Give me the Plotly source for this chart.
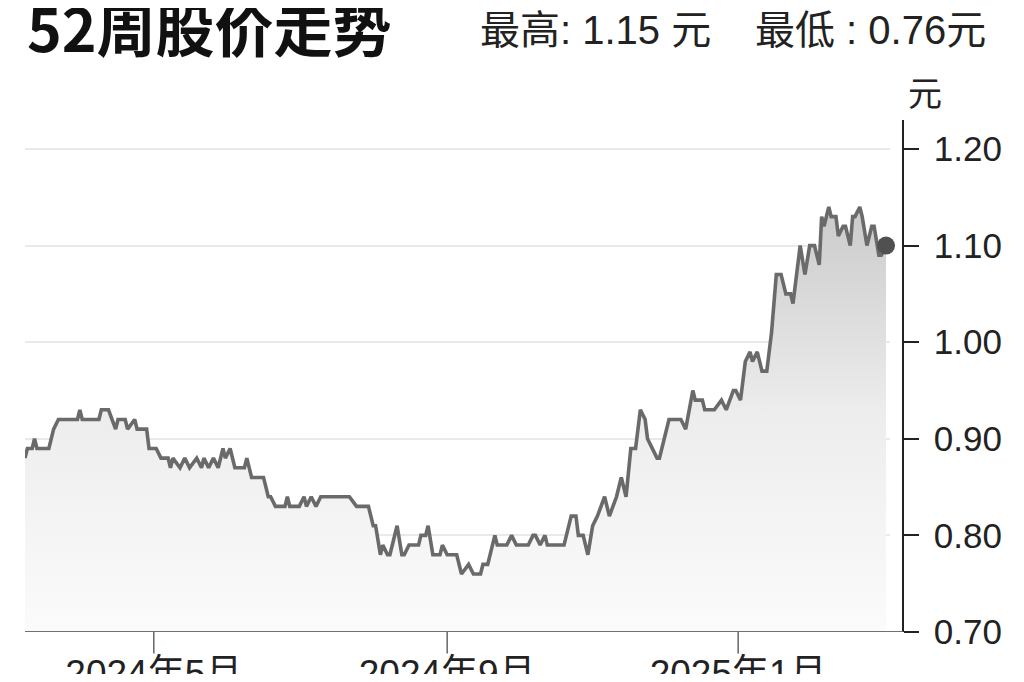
import plotly.graph_objects as go

dates = [
    "2024-03-08", "2024-03-09", "2024-03-11", "2024-03-12", "2024-03-13", "2024-03-18",
    "2024-03-20", "2024-03-22", "2024-03-30", "2024-03-31", "2024-04-01", "2024-04-08",
    "2024-04-09", "2024-04-12", "2024-04-15", "2024-04-16", "2024-04-19", "2024-04-20",
    "2024-04-23", "2024-04-24", "2024-04-28", "2024-04-29", "2024-05-02", "2024-05-04",
    "2024-05-07", "2024-05-08", "2024-05-09", "2024-05-12", "2024-05-14", "2024-05-16",
    "2024-05-19", "2024-05-21", "2024-05-22", "2024-05-24", "2024-05-26", "2024-05-28",
    "2024-05-30", "2024-05-31", "2024-06-02", "2024-06-04", "2024-06-08", "2024-06-09",
    "2024-06-11", "2024-06-16", "2024-06-18", "2024-06-19", "2024-06-21", "2024-06-25",
    "2024-06-26", "2024-06-27", "2024-07-01", "2024-07-03", "2024-07-04", "2024-07-06",
    "2024-07-08", "2024-07-10", "2024-07-22", "2024-07-25", "2024-07-30", "2024-08-01",
    "2024-08-02", "2024-08-04", "2024-08-05", "2024-08-07", "2024-08-08", "2024-08-11",
    "2024-08-13", "2024-08-14", "2024-08-16", "2024-08-20", "2024-08-21", "2024-08-23",
    "2024-08-24", "2024-08-26", "2024-08-29", "2024-08-30", "2024-09-01", "2024-09-05",
    "2024-09-07", "2024-09-10", "2024-09-12", "2024-09-15", "2024-09-16", "2024-09-18",
    "2024-09-21", "2024-09-22", "2024-09-26", "2024-09-28", "2024-09-30", "2024-10-05",
    "2024-10-07", "2024-10-08", "2024-10-10", "2024-10-12", "2024-10-13", "2024-10-20",
    "2024-10-23", "2024-10-25", "2024-10-26", "2024-10-28", "2024-10-30", "2024-11-01",
    "2024-11-03", "2024-11-06", "2024-11-08", "2024-11-11", "2024-11-13", "2024-11-15",
    "2024-11-17", "2024-11-19", "2024-11-21", "2024-11-23", "2024-11-24", "2024-11-28",
    "2024-11-29", "2024-12-03", "2024-12-08", "2024-12-10", "2024-12-13", "2024-12-14",
    "2024-12-17", "2024-12-18", "2024-12-22", "2024-12-25", "2024-12-27", "2024-12-30",
    "2024-12-31", "2025-01-02", "2025-01-04", "2025-01-06", "2025-01-07", "2025-01-09",
    "2025-01-11", "2025-01-13", "2025-01-15", "2025-01-17", "2025-01-19", "2025-01-21",
    "2025-01-23", "2025-01-24", "2025-01-27", "2025-01-29", "2025-01-31", "2025-02-02",
    "2025-02-04", "2025-02-05", "2025-02-06", "2025-02-08", "2025-02-09", "2025-02-11",
    "2025-02-12", "2025-02-14", "2025-02-15", "2025-02-17", "2025-02-18", "2025-02-19",
    "2025-02-21", "2025-02-22", "2025-02-24", "2025-02-26", "2025-02-27", "2025-03-01",
    "2025-03-02", "2025-03-04",
]

prices = [
    0.88, 0.89, 0.89, 0.90, 0.89, 0.89,
    0.91, 0.92, 0.92, 0.93, 0.92, 0.92,
    0.93, 0.93, 0.91, 0.92, 0.92, 0.91,
    0.92, 0.91, 0.91, 0.89, 0.89, 0.88,
    0.88, 0.87, 0.88, 0.87, 0.88, 0.87,
    0.88, 0.87, 0.88, 0.87, 0.88, 0.87,
    0.89, 0.88, 0.89, 0.87, 0.87, 0.88,
    0.86, 0.86, 0.84, 0.84, 0.83, 0.83,
    0.84, 0.83, 0.83, 0.84, 0.83, 0.84,
    0.83, 0.84, 0.84, 0.83, 0.83, 0.81,
    0.81, 0.78, 0.79, 0.78, 0.78, 0.81,
    0.78, 0.78, 0.79, 0.79, 0.80, 0.80,
    0.81, 0.78, 0.78, 0.79, 0.78, 0.78,
    0.76, 0.77, 0.76, 0.76, 0.77, 0.77,
    0.80, 0.79, 0.79, 0.80, 0.79, 0.79,
    0.80, 0.80, 0.79, 0.80, 0.79, 0.79,
    0.82, 0.82, 0.80, 0.80, 0.78, 0.81,
    0.82, 0.84, 0.82, 0.84, 0.86, 0.84,
    0.89, 0.89, 0.93, 0.92, 0.90, 0.88,
    0.88, 0.92, 0.92, 0.91, 0.95, 0.94,
    0.94, 0.93, 0.93, 0.94, 0.93, 0.95,
    0.95, 0.94, 0.98, 0.99, 0.98, 0.99,
    0.97, 0.97, 1.01, 1.07, 1.07, 1.05,
    1.05, 1.04, 1.10, 1.07, 1.10, 1.10,
    1.08, 1.13, 1.12, 1.14, 1.13, 1.13,
    1.11, 1.12, 1.12, 1.10, 1.13, 1.13,
    1.14, 1.13, 1.10, 1.12, 1.12, 1.09,
    1.09, 1.10,
]

x_tick_vals = ["2024-05-01", "2024-09-01", "2025-01-01"]
x_tick_text = ["2024年5月", "2024年9月", "2025年1月"]
y_tick_vals = [0.70, 0.80, 0.90, 1.00, 1.10, 1.20]
y_tick_text = ["0.70", "0.80", "0.90", "1.00", "1.10", "1.20"]

title_text = "52周股价走势"
high_text = "最高: 1.15 元"
low_text = "最低 : 0.76元"
unit_text = "元"

NUM_FONT = "Liberation Sans, Arial, Noto Sans CJK SC"
CJK_FONT = "Noto Sans CJK SC, Liberation Sans"

fig = go.Figure()
fig.add_trace(go.Scatter(
    x=dates, y=prices, mode="lines",
    line=dict(color="#6a6a6a", width=3.6),
    fill="tozeroy",
    fillgradient=dict(type="vertical",
                      colorscale=[[0, "#fbfbfb"], [0.5, "#ededed"], [1, "#c9c9c9"]],
                      start=0.70, stop=1.15),
    hoverinfo="skip",
))
fig.add_trace(go.Scatter(
    x=[dates[-1]], y=[prices[-1]], mode="markers",
    marker=dict(size=18, color="#505050"),
    cliponaxis=False, hoverinfo="skip",
))

# x tick marks drawn at the tick dates (labels come from the axis itself)
tick_shapes = [
    dict(type="line", xref="x", yref="paper", x0=v, x1=v, y0=0, y1=-0.042,
         line=dict(color="#666666", width=1.5))
    for v in x_tick_vals
]

fig.update_layout(
    width=1008, height=666,
    margin=dict(l=17, r=113, t=112, b=42),
    paper_bgcolor="white", plot_bgcolor="white",
    showlegend=False,
    xaxis=dict(
        type="date", domain=[0, 0.9852], automargin=False,
        range=["2024-03-08", "2025-03-05 16:00"],
        tickmode="array", tickvals=x_tick_vals, ticktext=x_tick_text,
        ticks="", ticklabelstandoff=16,
        showgrid=False, showline=False, zeroline=False,
        tickfont=dict(family=NUM_FONT, size=37, color="#222222"),
    ),
    yaxis=dict(
        range=[0.70, 1.23], side="right", anchor="free", position=1, automargin=False,
        tickmode="array", tickvals=y_tick_vals, ticktext=y_tick_text,
        ticks="outside", ticklen=15, tickwidth=1.5, tickcolor="#222222",
        showline=True, linecolor="#222222", linewidth=1.5,
        showgrid=True, gridcolor="#e9e9e9", gridwidth=1.5, zeroline=False,
        ticklabelstandoff=8,
        tickfont=dict(family=NUM_FONT, size=35, color="#222222"),
    ),
    shapes=[dict(type="line", xref="paper", x0=0, x1=1, yref="y", y0=0.70, y1=0.70,
                 line=dict(color="#707070", width=2), layer="above")] + tick_shapes,
    annotations=[
        dict(text=title_text, xref="paper", yref="paper", x=0.0, y=1.182,
             xanchor="left", yanchor="middle", showarrow=False,
             font=dict(family=CJK_FONT, size=59, color="#111111", weight="bold")),
        dict(text=high_text, xref="paper", yref="paper", x=0.516, y=1.176,
             xanchor="left", yanchor="middle", showarrow=False,
             font=dict(family=NUM_FONT, size=40, color="#222222")),
        dict(text=low_text, xref="paper", yref="paper", x=1.0968, y=1.176,
             xanchor="right", yanchor="middle", showarrow=False,
             font=dict(family=NUM_FONT, size=40, color="#222222")),
        dict(text=unit_text, xref="paper", yref="paper", x=1.025, y=1.056,
             xanchor="center", yanchor="middle", showarrow=False,
             font=dict(family=CJK_FONT, size=34, color="#222222")),
    ],
)

fig.write_html("out.html")
